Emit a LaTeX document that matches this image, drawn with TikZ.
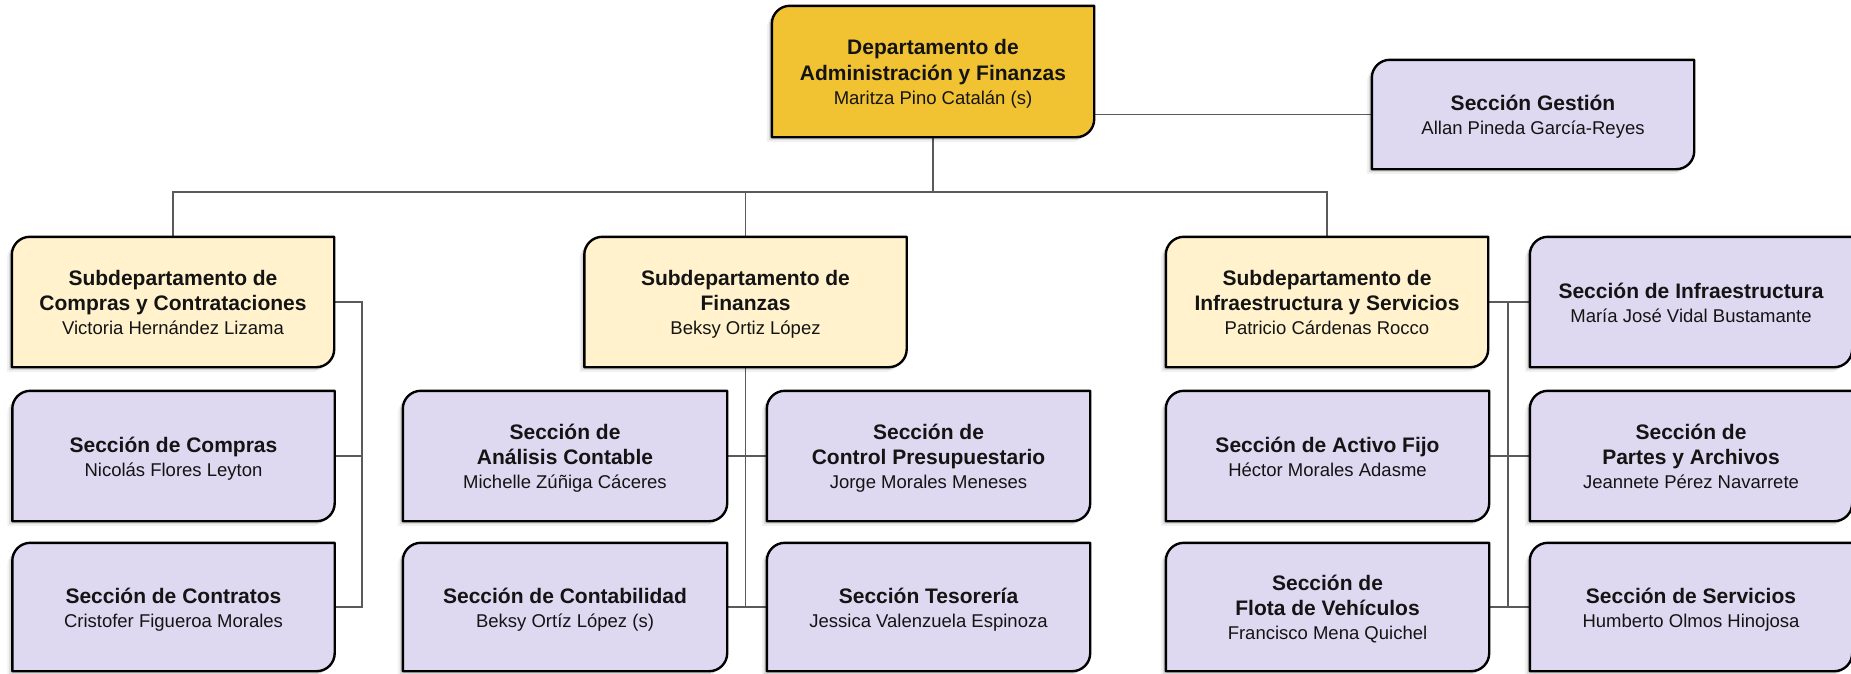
\documentclass[tikz,border=0pt]{standalone}
\usepackage{fontspec}
\setmainfont{Liberation Sans}
\usetikzlibrary{calc}
\pgfdeclarelayer{bg}
\pgfsetlayers{bg,main}
\definecolor{gold}{HTML}{F1C232}
\definecolor{cream}{HTML}{FFF2CC}
\definecolor{lav}{HTML}{DFD8F1}
\definecolor{wirec}{HTML}{5A5A5A}
\tikzset{
  unit/.style={rectangle, minimum width=322pt, minimum height=130pt, inner sep=0pt,
    align=center, font=\fontsize{21}{25.5}\selectfont\bfseries, text=black!92},
  wire/.style={draw=wirec, line width=1.8pt},
  boxline/.style={draw=black, line width=2.4pt, line join=round},
}
\newcommand\ts{\rule{0pt}{22pt}}
\newcommand\nm[1]{\\[-1.5pt]{\fontsize{18.5}{22}\selectfont\mdseries #1\rule[-6pt]{0pt}{6pt}}}
\newcommand\boxpath[1]{(#1.south west) -- ([yshift=-18pt]#1.north west) arc[start angle=180,end angle=90,radius=18pt] -- (#1.north east) -- ([yshift=18pt]#1.south east) arc[start angle=0,end angle=-90,radius=18pt] -- cycle}
\newcommand\orgshape[2]{%
  \begin{pgfonlayer}{bg}
    \begin{scope}[transform canvas={xshift=-3pt,yshift=-3pt}]
      \fill[black,opacity=0.10] \boxpath{#1};
    \end{scope}
    \begin{scope}[transform canvas={xshift=-5pt,yshift=-5pt}]
      \fill[black,opacity=0.05] \boxpath{#1};
    \end{scope}
    \path[boxline, fill=#2] \boxpath{#1};
  \end{pgfonlayer}}
\begin{document}
\begin{tikzpicture}[x=1pt,y=-1pt]
\begin{pgfonlayer}{bg}
\fill[white] (0,0) rectangle (1851,673);
\end{pgfonlayer}
\useasboundingbox (0,0) rectangle (1851,673);

\coordinate (bus) at (933,192);
\coordinate (cx) at (362,0);
\coordinate (ix) at (1508,0);

% top
\node[unit, minimum height=131pt] (dept) at (933,71.5) {\ts Departamento de\\Administración y Finanzas\nm{Maritza Pino Catalán (s)}};
\node[unit, minimum height=109pt] (gest) at (1533,114.5) {\ts Sección Gestión\nm{Allan Pineda García-Reyes}};

% Compras column
\node[unit] (sc) at (173,302) {\ts Subdepartamento de\\Compras y Contrataciones\nm{Victoria Hernández Lizama}};
\node[unit] (scomp) at (173.5,456) {\ts Sección de Compras\nm{Nicolás Flores Leyton}};
\node[unit, minimum height=128pt] (scont) at (173.5,607) {\ts Sección de Contratos\nm{Cristofer Figueroa Morales}};

% Finanzas column
\node[unit] (sf) at (745.5,302) {\ts Subdepartamento de\\Finanzas\nm{Beksy Ortiz López}};
\node[unit, minimum width=324pt] (sac) at (565,456) {\ts Sección de\\Análisis Contable\nm{Michelle Zúñiga Cáceres}};
\node[unit, minimum width=323pt] (scp) at (928.5,456) {\ts Sección de\\Control Presupuestario\nm{Jorge Morales Meneses}};
\node[unit, minimum width=324pt, minimum height=128pt] (scon) at (565,607) {\ts Sección de Contabilidad\nm{Beksy Ortíz López (s)}};
\node[unit, minimum width=323pt, minimum height=128pt] (stes) at (928.5,607) {\ts Sección Tesorería\nm{Jessica Valenzuela Espinoza}};

% Infra column
\node[unit] (si) at (1327,302) {\ts Subdepartamento de\\Infraestructura y Servicios\nm{Patricio Cárdenas Rocco}};
\node[unit, minimum width=323pt] (saf) at (1327.5,456) {\ts Sección de Activo Fijo\nm{Héctor Morales Adasme}};
\node[unit, minimum width=323pt, minimum height=128pt] (sfv) at (1327.5,607) {\ts Sección de\\Flota de Vehículos\nm{Francisco Mena Quichel}};
\node[unit] (sinf) at (1691,302) {\ts Sección de Infraestructura\nm{María José Vidal Bustamante}};
\node[unit] (spa) at (1691,456) {\ts Sección de\\Partes y Archivos\nm{Jeannete Pérez Navarrete}};
\node[unit, minimum height=128pt] (sser) at (1691,607) {\ts Sección de Servicios\nm{Humberto Olmos Hinojosa}};

% connectors (on background, under boxes)
\begin{pgfonlayer}{bg}
\draw[wire] (gest.west) -- (gest.west -| dept.east);
\draw[wire] (dept.south) -- (dept.south |- bus);
\draw[wire] (sc.north) -- (sc.north |- bus) -- (si.north |- bus) -- (si.north);
\draw[wire] (sf.north) -- (sf.north |- bus);
\draw[wire] (sc.east) -- (sc.east -| cx) -- (scont.east -| cx) -- (scont.east);
\draw[wire] (scomp.east) -- (scomp.east -| cx);
\draw[wire] (sf.south) -- (sf.south |- scon.east);
\draw[wire] (sac.east) -- (scp.west);
\draw[wire] (scon.east) -- (stes.west);
\draw[wire] (si.east) -- (sinf.west);
\draw[wire] (saf.east) -- (spa.west);
\draw[wire] (sfv.east) -- (sser.west);
\draw[wire] (si.east -| ix) -- (sfv.east -| ix);
\end{pgfonlayer}

% shapes
\orgshape{dept}{gold}
\orgshape{gest}{lav}
\orgshape{sc}{cream}
\orgshape{sf}{cream}
\orgshape{si}{cream}
\foreach \n in {scomp,scont,sac,scp,scon,stes,saf,sfv,sinf,spa,sser}{\orgshape{\n}{lav}}
\end{tikzpicture}
\end{document}
